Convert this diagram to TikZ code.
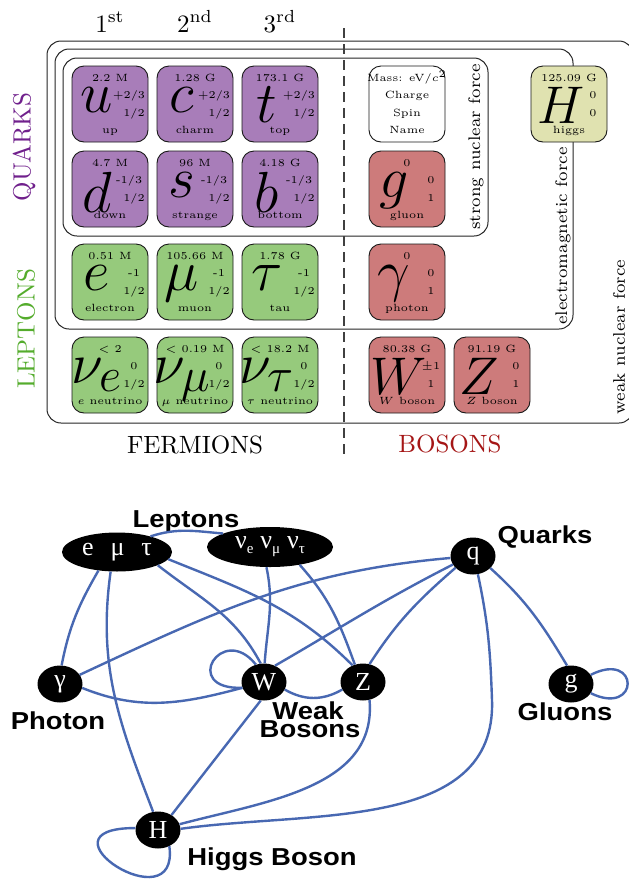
\documentclass[tikz,border=0pt]{standalone}
\usepackage{fontspec}
\usepackage{graphicx}
\usetikzlibrary{shapes.geometric}
\newfontfamily\gserif{Liberation Serif}
\newfontfamily\gsans{Liberation Sans}
\definecolor{qfill}{RGB}{168,125,185}
\definecolor{lfill}{RGB}{150,202,124}
\definecolor{bfill}{RGB}{205,123,123}
\definecolor{hfill}{RGB}{224,226,176}
\definecolor{qtext}{RGB}{112,32,140}
\definecolor{ltext}{RGB}{84,172,44}
\definecolor{btext}{RGB}{165,22,22}
\definecolor{gblue}{RGB}{72,104,178}
\newcommand{\Ls}[1]{\scalebox{2.33}{\Huge$#1$}}
\newcommand{\Us}[1]{\scalebox{2.13}{\Huge$#1$}}
\newcommand{\lft}[1]{#1\hspace*{4.8pt}}
\newcommand{\gsub}[1]{\raisebox{-5pt}{\fontsize{15}{15}\selectfont #1}}
\newcommand{\pcell}[9]{%
  \node[cellbox,fill=#4] (#1) at (#2+38,-#3-38) {};
  \node[tinyt] (#1-m) at (#2+38,-#3-15.5) {#5};
  \node[symb] (#1-s) at (#2+25,-#3-21) {#6};
  \node[tinyt] (#1-c) at (#2+62,-#3-32.6) {#7};
  \node[tinyt] (#1-p) at (#2+62,-#3-50.5) {#8};
  \node[tinyt] (#1-n) at (#2+38,-#3-67.5) {#9};
}
\begin{document}
\begin{tikzpicture}[x=1pt,y=1pt,
  forcebox/.style={draw=black!85, line width=1pt, rounded corners=14pt},
  cellbox/.style={draw=black!90, line width=0.9pt, rounded corners=12pt, minimum width=76pt, minimum height=76pt, inner sep=0pt},
  tinyt/.style={font=\tiny, scale=2.1, inner sep=0pt, anchor=base},
  symb/.style={anchor=north, inner sep=0pt},
  bigtxt/.style={font=\normalsize, scale=2.5, inner sep=0pt},
  forcet/.style={font=\scriptsize, scale=2.4, rotate=90, inner sep=0pt},
  gnode/.style={ellipse, fill=black, text=white, font=\gserif\fontsize{26}{26}\selectfont, inner sep=0pt, minimum width=45pt, minimum height=37pt},
  glabel/.style={font=\gsans\bfseries\fontsize{24.5}{24.5}\selectfont, xscale=1.12, inner sep=0pt, anchor=base},
  gedge/.style={draw=gblue, line width=2.4pt},
]
\fill[white] (0,0) rectangle (629,-879);
\useasboundingbox (0,0) rectangle (629,-879);

% force boxes
\draw[forcebox] (47,-41) rectangle (633,-423);
\draw[forcebox] (55,-49) rectangle (573,-329);
\draw[forcebox] (63,-58) rectangle (488,-236);
\draw[black!75, line width=1.2pt, dash pattern=on 10pt off 6pt] (344,-28) -- (344,-460);

% headings
\node[bigtxt, anchor=base] (h1) at (110,-32) {$1^{\mathrm{st}}$};
\node[bigtxt, anchor=base] (h2) at (195,-32) {$2^{\mathrm{nd}}$};
\node[bigtxt, anchor=base] (h3) at (280,-32) {$3^{\mathrm{rd}}$};
\node[bigtxt, rotate=90, text=qtext] (lq) at (24,-147) {QUARKS};
\node[bigtxt, rotate=90, text=ltext] (ll) at (26,-329) {LEPTONS};
\node[bigtxt, anchor=base] (lf) at (195,-453) {FERMIONS};
\node[bigtxt, anchor=base, text=btext] (lb) at (450,-452) {BOSONS};
\node[forcet] (fs) at (476,-147) {strong nuclear force};
\node[forcet] (fe) at (563,-236) {electromagnetic force};
\node[forcet] (fw) at (619,-337) {weak nuclear force};

% quarks
\pcell{pu}{72}{66}{qfill}{2.2 M}{\Ls{u}}{\lft{+2/3}}{1/2}{up}
\pcell{pc}{157}{66}{qfill}{1.28 G}{\Ls{c}}{\lft{+2/3}}{1/2}{charm}
\pcell{pt}{242}{66}{qfill}{173.1 G}{\Ls{t}}{\lft{+2/3}}{1/2}{top}
\pcell{pd}{72}{151}{qfill}{4.7 M}{\Ls{d}}{\lft{-1/3}}{1/2}{down}
\pcell{ps}{157}{151}{qfill}{96 M}{\Ls{s}}{\lft{-1/3}}{1/2}{strange}
\pcell{pb}{242}{151}{qfill}{4.18 G}{\Ls{b}}{\lft{-1/3}}{1/2}{bottom}
% leptons
\pcell{pe}{72}{244}{lfill}{0.51 M}{\Ls{e}}{-1}{1/2}{electron}
\pcell{pmu}{157}{244}{lfill}{105.66 M}{\Ls{\mu}}{-1}{1/2}{muon}
\pcell{ptau}{242}{244}{lfill}{1.78 G}{\Ls{\tau}}{-1}{1/2}{tau}
\pcell{pve}{72}{337}{lfill}{$<$ 2}{\Ls{\nu_e}}{0}{1/2}{$e$ neutrino}
\pcell{pvm}{157}{337}{lfill}{$<$ 0.19 M}{\Ls{\nu_\mu}}{0}{1/2}{$\mu$ neutrino}
\pcell{pvt}{242}{337}{lfill}{$<$ 18.2 M}{\Ls{\nu_\tau}}{0}{1/2}{$\tau$ neutrino}
% legend
\node[cellbox, fill=white] (leg) at (407,-104) {};
\node[tinyt] (leg-m) at (407,-81.5) {Mass: eV/$c^2$};
\node[tinyt] (leg-c) at (407,-98.6) {Charge};
\node[tinyt] (leg-p) at (407,-116.5) {Spin};
\node[tinyt] (leg-n) at (407,-133.5) {Name};
% bosons
\pcell{pg}{369}{151}{bfill}{0}{\Ls{g}}{0}{1}{gluon}
\pcell{pga}{369}{244}{bfill}{0}{\Ls{\gamma}}{0}{1}{photon}
\pcell{pW}{369}{337}{bfill}{80.38 G}{\hspace*{10pt}\Us{W}}{$\pm$1}{1}{$W$ boson}
\pcell{pZ}{454}{337}{bfill}{91.19 G}{\Us{Z}}{0}{1}{$Z$ boson}
\pcell{pH}{531}{66}{hfill}{125.09 G}{\hspace*{10pt}\Us{H}}{0}{0}{higgs}

% ---------------- graph ----------------
\node[gnode, minimum width=110pt, minimum height=39pt] (emt) at (117,-552) {e\hspace{17pt}μ\hspace{17pt}τ};
\node[gnode, minimum width=126pt, minimum height=40pt] (nu) at (270,-547) {ν\gsub{e}\hspace{7pt}ν\gsub{μ}\hspace{7pt}ν\gsub{τ}};
\node[gnode] (q) at (473,-556) {q};
\node[gnode] (gam) at (60,-684) {γ};
\node[gnode] (nW) at (264,-682) {W};
\node[gnode] (nZ) at (363,-682) {Z};
\node[gnode] (ng) at (571,-684) {g};
\node[gnode] (nH) at (158,-830) {H};

\node[glabel] (lLep) at (186,-527) {Leptons};
\node[glabel] (lQua) at (545,-543) {Quarks};
\node[glabel] (lPho) at (58,-729) {Photon};
\node[glabel] (lWeak) at (308,-719) {Weak};
\node[glabel] (lBos) at (310,-737) {Bosons};
\node[glabel] (lGlu) at (565,-720) {Gluons};
\node[glabel] (lHig) at (272,-865) {Higgs Boson};

\coordinate (qh) at (492,-700);
\draw[gedge] (emt.25) to[out=18,in=175] (nu.164);
\draw[gedge] (emt.225) to[out=240,in=79] (gam.85);
\draw[gedge] (emt.-108) to[out=262,in=111] (nH.105);
\draw[gedge] (emt.-18) to[out=-38,in=118] (nW.100);
\draw[gedge] (emt.-8) to[out=-22,in=135] (nZ.122);
\draw[gedge] (nu.-100) to[out=-78,in=86] (nW.88);
\draw[gedge] (nu.-31) to[out=-48,in=110] (nZ.115);
\draw[gedge] (gam) to[out=25,in=185] (q);
\draw[gedge] (gam.-10) to[out=-22,in=195] (nW.195);
\draw[gedge] (nW.-20) to[out=-30,in=210] (nZ.200);
\draw[gedge] (nW.115) .. controls (222,-622) and (180,-690) .. (nW.195);
\draw[gedge] (nW.56) to[out=30,in=207] (q.203);
\draw[gedge] (nZ.70) to[out=57,in=221] (q.214);
\draw[gedge] (q.-35) to[out=-42,in=121] (ng.102);
\draw[gedge] (ng.25) .. controls (640,-650) and (640,-717) .. (ng.-25);
\draw[gedge] (nW.-100) -- (nH.48);
\draw[gedge] (nZ.-70) to[out=-85,in=15] (nH.15);
\draw[gedge] (q.-75) to[out=-78,in=92] (qh) to[out=-88,in=8] (nH.3);
\draw[gedge] (nH.175) .. controls (30,-828) and (180,-925) .. (nH.-55);
\end{tikzpicture}
\end{document}
